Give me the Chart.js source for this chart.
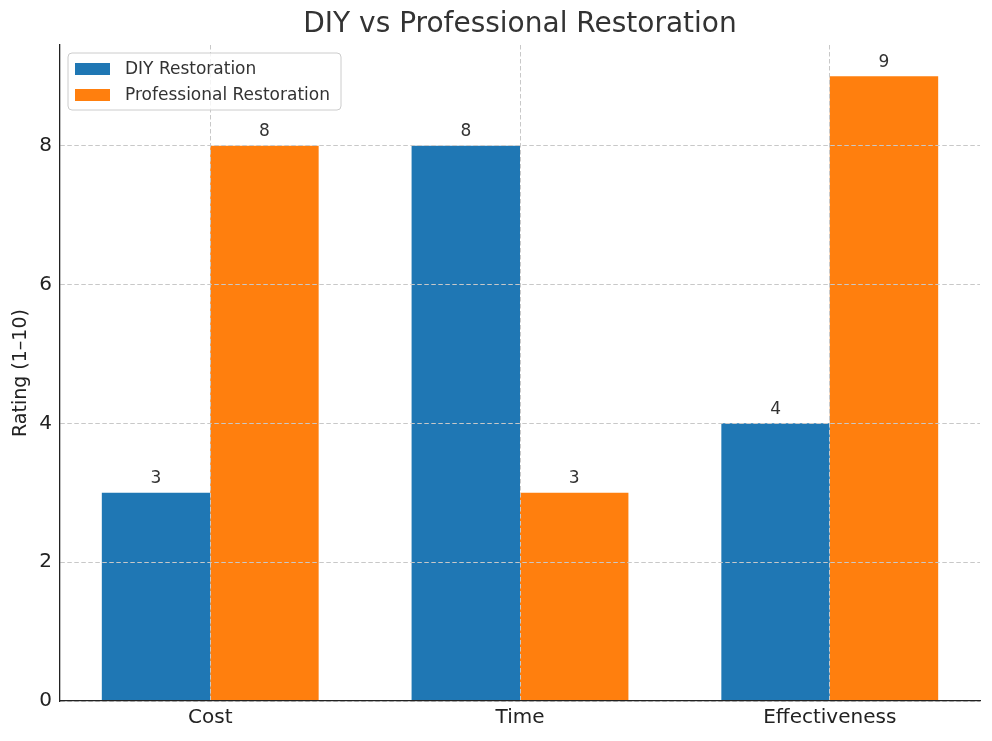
<!DOCTYPE html>
<html>
<head>
<meta charset="utf-8">
<script src="https://cdn.jsdelivr.net/npm/chart.js@4.4.1/dist/chart.umd.min.js"></script>
<style>
  html, body { margin: 0; padding: 0; background: #fff; }
  #wrap { width: 992px; height: 741px; position: relative; }
</style>
</head>
<body>
<div id="wrap"><canvas id="c"></canvas></div>
<script>
const categories = ['Cost', 'Time', 'Effectiveness'];
const diyValues = [3, 8, 4];
const proValues = [8, 3, 9];
const seriesNames = ['DIY Restoration', 'Professional Restoration'];
const yTicks = [0, 2, 4, 6, 8];
const titleText = 'DIY vs Professional Restoration';
const yTitle = 'Rating (1–10)';

const FONT = "'DejaVu Sans', sans-serif";
const BLUE = '#1f77b4';
const ORANGE = '#ff7f0e';

const toPoints = arr => arr.map((v, i) => ({ x: i, y: v }));

const titlePlugin = {
  id: 'mplTitle',
  afterDraw(chart) {
    const { ctx, chartArea } = chart;
    ctx.save();
    ctx.font = '28px ' + FONT;
    ctx.fillStyle = '#333333';
    ctx.textAlign = 'center';
    ctx.textBaseline = 'middle';
    ctx.fillText(titleText, (chartArea.left + chartArea.right) / 2, 25);
    ctx.restore();
  }
};

const valueLabels = {
  id: 'valueLabels',
  afterDatasetsDraw(chart) {
    const { ctx } = chart;
    ctx.save();
    ctx.font = '17px ' + FONT;
    ctx.fillStyle = '#333333';
    ctx.textAlign = 'center';
    ctx.textBaseline = 'middle';
    chart.data.datasets.forEach((ds, di) => {
      const meta = chart.getDatasetMeta(di);
      meta.data.forEach((bar, i) => {
        ctx.fillText(String(ds.data[i].y), bar.x, bar.y - 14);
      });
    });
    ctx.restore();
  }
};

const legendPlugin = {
  id: 'mplLegend',
  afterDraw(chart) {
    const { ctx, chartArea } = chart;
    const x = chartArea.left + 8, y = chartArea.top + 8, w = 273, h = 57, r = 4;
    ctx.save();
    ctx.beginPath();
    ctx.moveTo(x + r, y);
    ctx.lineTo(x + w - r, y);
    ctx.quadraticCurveTo(x + w, y, x + w, y + r);
    ctx.lineTo(x + w, y + h - r);
    ctx.quadraticCurveTo(x + w, y + h, x + w - r, y + h);
    ctx.lineTo(x + r, y + h);
    ctx.quadraticCurveTo(x, y + h, x, y + h - r);
    ctx.lineTo(x, y + r);
    ctx.quadraticCurveTo(x, y, x + r, y);
    ctx.closePath();
    ctx.fillStyle = 'rgba(255,255,255,0.8)';
    ctx.fill();
    ctx.strokeStyle = '#cccccc';
    ctx.lineWidth = 1;
    ctx.stroke();
    ctx.font = '17px ' + FONT;
    ctx.textAlign = 'left';
    ctx.textBaseline = 'middle';
    chart.data.datasets.forEach((ds, i) => {
      const cy = y + 16 + i * 26;
      ctx.fillStyle = ds.backgroundColor;
      ctx.fillRect(x + 7, cy - 6, 35, 12);
      ctx.fillStyle = '#333333';
      ctx.fillText(ds.label, x + 57, cy + 1);
    });
    ctx.restore();
  }
};

new Chart(document.getElementById('c'), {
  type: 'bar',
  data: {
    datasets: [
      { label: seriesNames[0], data: toPoints(diyValues), backgroundColor: BLUE, borderWidth: 0 },
      { label: seriesNames[1], data: toPoints(proValues), backgroundColor: ORANGE, borderWidth: 0 }
    ]
  },
  options: {
    responsive: true,
    maintainAspectRatio: false,
    animation: false,
    layout: { padding: { top: 45, right: 12, bottom: 0, left: 0 } },
    datasets: { bar: { categoryPercentage: 0.7, barPercentage: 1.0 } },
    plugins: {
      legend: { display: false },
      title: { display: false },
      tooltip: { enabled: false }
    },
    scales: {
      x: {
        type: 'linear',
        min: -0.485,
        max: 2.485,
        offset: false,
        afterBuildTicks(scale) { scale.ticks = categories.map((c, i) => ({ value: i })); },
        afterFit(scale) { scale.height = 40; },
        ticks: {
          callback: v => categories[v],
          font: { family: FONT, size: 20 },
          color: '#222222',
          padding: 5,
          maxRotation: 0,
          autoSkip: false
        },
        grid: { offset: false, color: '#c8c8c8', lineWidth: 1, drawTicks: false, z: 1 },
        border: { display: true, color: '#222222', width: 1.3, dash: [4.5, 2.5], z: 2 }
      },
      y: {
        type: 'linear',
        min: 0,
        max: 9.45,
        afterBuildTicks(scale) { scale.ticks = yTicks.map(v => ({ value: v })); },
        afterFit(scale) { scale.width = 60; },
        ticks: {
          font: { family: FONT, size: 20 },
          color: '#222222',
          padding: 8
        },
        title: {
          display: true,
          text: yTitle,
          font: { family: FONT, size: 19 },
          color: '#222222',
          padding: { top: 10, bottom: 0 }
        },
        grid: { color: '#c8c8c8', lineWidth: 1, drawTicks: false, z: 1 },
        border: { display: true, color: '#222222', width: 1.3, dash: [4.5, 2.5], z: 2 }
      }
    }
  },
  plugins: [valueLabels, titlePlugin, legendPlugin]
});
</script>
</body>
</html>
